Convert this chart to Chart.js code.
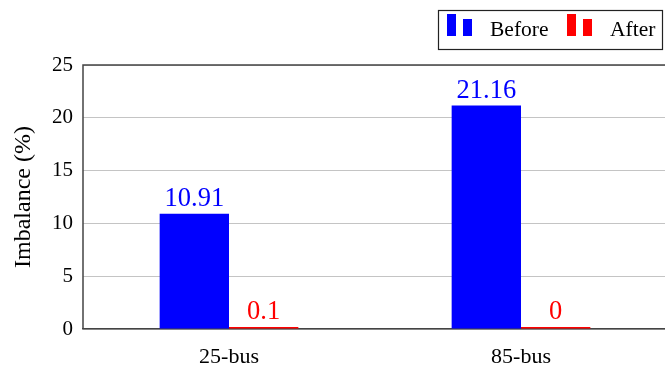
<!DOCTYPE html>
<html>
<head>
<meta charset="utf-8">
<script src="https://cdn.jsdelivr.net/npm/chart.js@4"></script>
<style>
  html, body { margin: 0; padding: 0; background: #fff; overflow: hidden; }
  #wrap { width: 665px; height: 365px; position: relative; overflow: hidden; }
  #c { display: block; }
</style>
</head>
<body>
<div id="wrap"><canvas id="c" width="667" height="365"></canvas></div>
<script>
const categories = ['25-bus', '85-bus'];
const beforeValues = [10.91, 21.16];
const afterValues = [0.1, 0];
const beforeLabels = ['10.91', '21.16'];
const afterLabels = ['0.1', '0'];
const seriesNames = ['Before', 'After'];

const SERIF = '"Liberation Serif", "DejaVu Serif", serif';
const BLUE = '#0000ff';
const RED = '#ff0000';

// Values printed above each bar
const valueLabels = {
  id: 'valueLabels',
  afterDatasetsDraw(chart) {
    const ctx = chart.ctx;
    const texts = [beforeLabels, afterLabels];
    ctx.save();
    ctx.font = '26.5px ' + SERIF;
    ctx.textAlign = 'center';
    ctx.textBaseline = 'alphabetic';
    chart.data.datasets.forEach((ds, i) => {
      const meta = chart.getDatasetMeta(i);
      ctx.fillStyle = ds.backgroundColor;
      meta.data.forEach((bar, j) => {
        ctx.fillText(texts[i][j], bar.x, Math.min(bar.y, bar.base - 2) - 8);
      });
    });
    ctx.restore();
  }
};

// Frame lines along the top and left of the plot area
const frame = {
  id: 'frame',
  afterDraw(chart) {
    const { ctx, chartArea: a } = chart;
    ctx.save();
    ctx.strokeStyle = '#444';
    ctx.lineWidth = 1.5;
    ctx.beginPath();
    ctx.moveTo(a.left, a.bottom);
    ctx.lineTo(a.left, a.top);
    ctx.lineTo(a.right, a.top);
    ctx.stroke();
    ctx.restore();
  }
};

// Boxed legend with two-bar swatches
const boxLegend = {
  id: 'boxLegend',
  afterDraw(chart) {
    const ctx = chart.ctx;
    ctx.save();
    ctx.fillStyle = '#fff';
    ctx.fillRect(438, 10, 225, 40);
    ctx.strokeStyle = '#222';
    ctx.lineWidth = 1.2;
    ctx.strokeRect(438.5, 10.5, 224, 39);
    const items = [
      { x: 447, text: seriesNames[0], tx: 490, color: chart.data.datasets[0].backgroundColor },
      { x: 567, text: seriesNames[1], tx: 610, color: chart.data.datasets[1].backgroundColor }
    ];
    ctx.font = '21.5px ' + SERIF;
    ctx.textBaseline = 'alphabetic';
    ctx.textAlign = 'left';
    items.forEach(it => {
      ctx.fillStyle = it.color;
      ctx.fillRect(it.x, 14, 9, 22);
      ctx.fillRect(it.x + 16, 19, 9, 17);
      ctx.fillStyle = '#000';
      ctx.fillText(it.text, it.tx, 36);
    });
    ctx.restore();
  }
};

new Chart(document.getElementById('c'), {
  type: 'bar',
  data: {
    labels: categories,
    datasets: [
      { label: seriesNames[0], data: beforeValues, backgroundColor: BLUE, borderWidth: 0 },
      { label: seriesNames[1], data: afterValues, backgroundColor: RED, borderWidth: 0, minBarLength: 2 }
    ]
  },
  options: {
    responsive: false,
    animation: false,
    devicePixelRatio: 1,
    layout: { padding: { top: 65, right: 0, left: 0, bottom: 0 } },
    datasets: { bar: { barPercentage: 1, categoryPercentage: 0.475 } },
    plugins: {
      legend: { display: false },
      tooltip: { enabled: false }
    },
    scales: {
      x: {
        grid: { display: false },
        border: { display: true, color: '#444', width: 1.5 },
        ticks: { color: '#000', font: { family: SERIF, size: 22 }, padding: 7 },
        afterFit(scale) { scale.height = 36; }
      },
      y: {
        min: 0,
        max: 25,
        ticks: { stepSize: 5, color: '#000', font: { family: SERIF, size: 21 }, padding: 10 },
        grid: { color: '#c4c4c4', lineWidth: 1, drawTicks: false },
        border: { display: false },
        title: {
          display: true,
          text: 'Imbalance (%)',
          color: '#000',
          font: { family: SERIF, size: 24 },
          padding: { top: 9, bottom: 6 }
        },
        afterFit(scale) { scale.width = 83; }
      }
    }
  },
  plugins: [valueLabels, frame, boxLegend]
});
</script>
</body>
</html>
